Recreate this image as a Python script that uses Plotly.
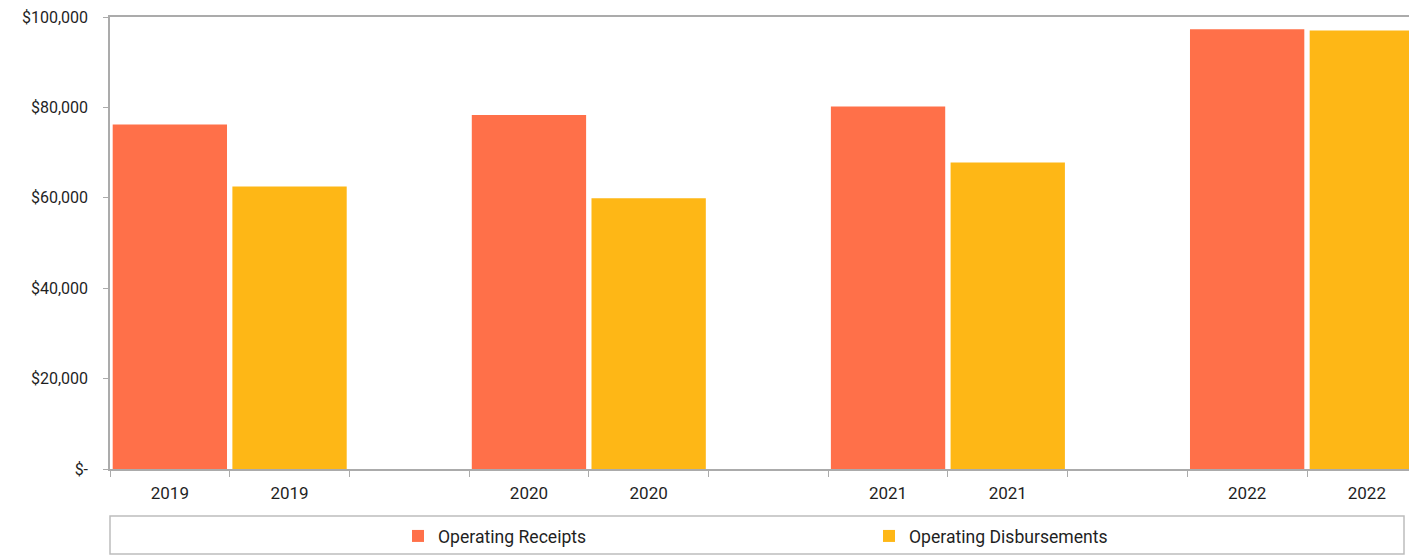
import plotly.graph_objects as go

# ---- data ----
years = ["2019", "2020", "2021", "2022"]
receipts = [76200, 78300, 80200, 97300]
disbursements = [62500, 59900, 67800, 97000]
y_tick_values = [0, 20000, 40000, 60000, 80000, 100000]
y_tick_labels = ["$-", "$20,000", "$40,000", "$60,000", "$80,000", "$100,000"]

ORANGE = "#FF7049"
YELLOW = "#FEB716"
AXIS = "#ABABAB"
TEXT = "#1F1F1F"

W, H = 1409, 555

# each year occupies 3 slots: receipts, disbursements, blank
rec_x = [3 * i for i in range(len(years))]
dis_x = [3 * i + 1 for i in range(len(years))]
label_vals = sorted(rec_x + dis_x)
label_text = []
for y in years:
    label_text += [y, y]
boundaries = [b - 0.5 for b in range(3 * len(years) + 1)]

plot_top, plot_bottom, plot_left = 17, 469, 110
plot_h = plot_bottom - plot_top
plot_w = W - plot_left

fig = go.Figure()
fig.add_trace(go.Bar(x=rec_x, y=receipts, name="Operating Receipts",
                     marker=dict(color=ORANGE, line=dict(width=0)), width=0.955))
fig.add_trace(go.Bar(x=dis_x, y=disbursements, name="Operating Disbursements",
                     marker=dict(color=YELLOW, line=dict(width=0)), width=0.955))

fig.update_layout(
    width=W, height=H,
    margin=dict(l=plot_left, r=0, t=plot_top, b=H - plot_bottom, pad=0),
    paper_bgcolor="white", plot_bgcolor="white",
    barmode="overlay",
    font=dict(family="Roboto", size=16, color=TEXT),
    showlegend=True,
    legend=dict(orientation="h", xref="container", yref="container",
                x=398 / W, xanchor="left", y=(H - 536) / H, yanchor="middle",
                entrywidth=426, entrywidthmode="pixels",
                bgcolor="rgba(0,0,0,0)", borderwidth=0,
                font=dict(family="Roboto", size=17.6, color=TEXT)),
    xaxis=dict(range=[-0.5, -0.5 + plot_w / 119.7], showgrid=False, zeroline=False,
               tickmode="array", tickvals=label_vals, ticktext=label_text,
               ticks="", showline=True, linecolor=AXIS, linewidth=1.5, mirror=True,
               ticklabelstandoff=8, tickfont=dict(size=17),
               minor=dict(tickmode="array", tickvals=boundaries, ticks="outside",
                          ticklen=6, tickcolor=AXIS, tickwidth=1, showgrid=False)),
    yaxis=dict(range=[0, 100000], showgrid=False, zeroline=False,
               tickmode="array", tickvals=y_tick_values, ticktext=y_tick_labels,
               ticks="outside", ticklen=5, tickcolor=AXIS, tickwidth=1,
               showline=True, linecolor=AXIS, linewidth=1.5,
               ticklabelstandoff=12),
    shapes=[dict(type="rect", xref="paper", yref="paper",
                 x0=0, x1=(1404 - plot_left) / plot_w,
                 y0=(plot_bottom - 554) / plot_h, y1=(plot_bottom - 516) / plot_h,
                 line=dict(color="#BDBDBD", width=1.5), fillcolor="rgba(0,0,0,0)",
                 layer="below")],
)

fig.write_html(
    "out.html",
    config={"displayModeBar": False},
    post_script="document.body.style.margin='0';document.body.style.overflow='hidden';",
)
